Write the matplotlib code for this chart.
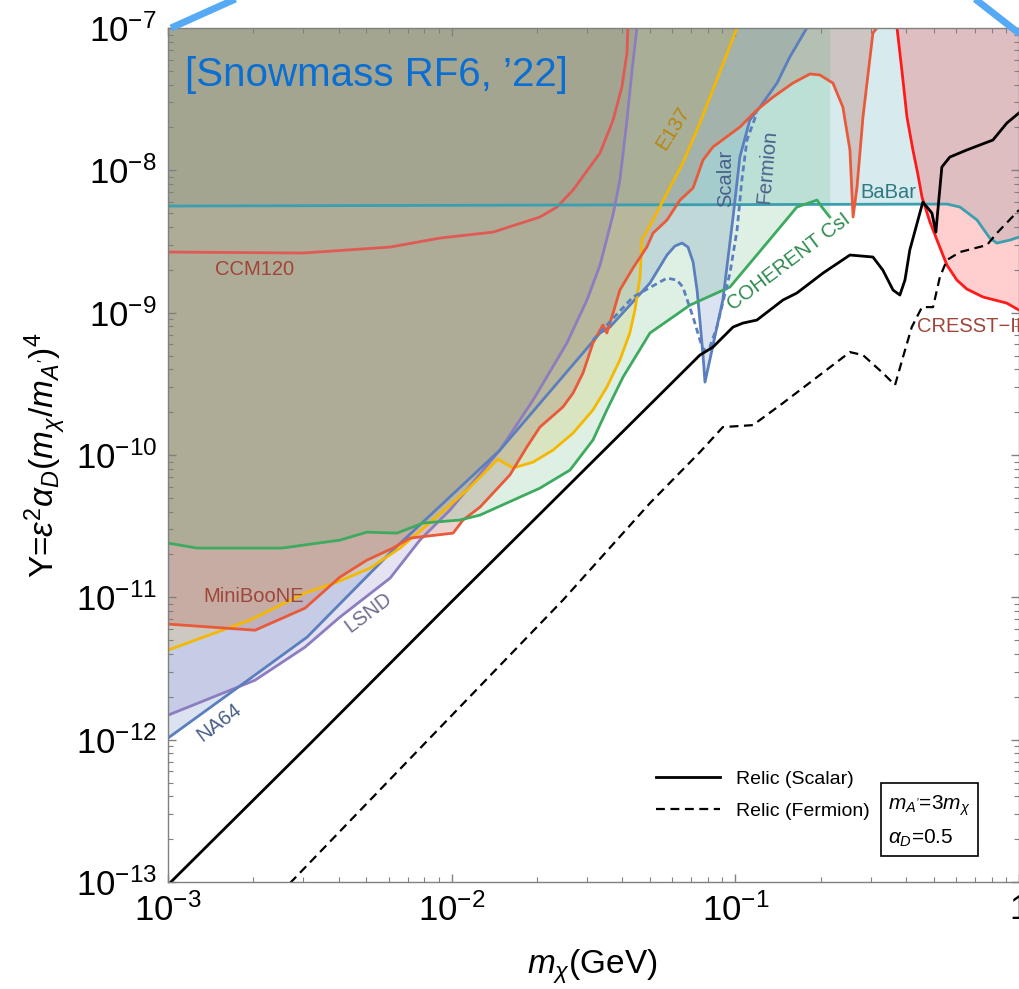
import numpy as np
import matplotlib
matplotlib.use("Agg")
import matplotlib.pyplot as plt
from matplotlib.lines import Line2D
from matplotlib.ticker import LogLocator, FixedLocator, FixedFormatter, NullFormatter

plt.rcParams['font.family'] = ['Liberation Sans', 'DejaVu Sans']
plt.rcParams['mathtext.fontset'] = 'custom'
plt.rcParams['mathtext.rm'] = 'Liberation Sans'
plt.rcParams['mathtext.it'] = 'Liberation Sans:italic'
plt.rcParams['mathtext.bf'] = 'Liberation Sans:bold'

# curves, stored as log10(m_chi/GeV) and log10(Y)
babar_lm = [-3.000, -0.254, -0.208, -0.148, -0.103, -0.078, -0.032, 0.000]
babar_ly = [-8.251, -8.237, -8.258, -8.349, -8.476, -8.511, -8.490, -8.469]

ccm_lm = [-3.000, -2.524, -2.217, -2.041, -1.854, -1.689, -1.629, -1.572,
          -1.477, -1.431, -1.400, -1.382, -1.379]
ccm_ly = [-8.574, -8.581, -8.539, -8.476, -8.434, -8.328, -8.258, -8.138,
          -7.878, -7.647, -7.415, -7.176, -7.000]

mb_lm = [-3.000, -2.693, -2.517, -2.394, -2.299, -2.207, -2.147, -1.995, -1.960,
         -1.900, -1.795, -1.735, -1.689, -1.608, -1.572, -1.537, -1.502, -1.467,
         -1.453, -1.431, -1.407, -1.361, -1.312, -1.290, -1.241, -1.195, -1.149,
         -1.114, -1.079, -0.984, -0.924, -0.867, -0.797, -0.737, -0.702, -0.656,
         -0.621, -0.596, -0.585, -0.571, -0.550, -0.515, -0.501]
mb_ly = [-11.188, -11.231, -11.076, -10.858, -10.739, -10.654, -10.584, -10.549,
         -10.457, -10.366, -10.141, -9.944, -9.804, -9.663, -9.565, -9.424, -9.214,
         -9.087, -9.143, -9.003, -8.841, -8.687, -8.539, -8.441, -8.349, -8.209,
         -8.124, -7.928, -7.836, -7.696, -7.576, -7.485, -7.387, -7.323, -7.330,
         -7.387, -7.555, -7.857, -8.328, -8.117, -7.625, -7.035, -7.000]

e137_lm = [-3.000, -2.711, -2.517, -2.404, -2.288, -2.182, -2.066, -1.946, -1.837,
           -1.784, -1.713, -1.643, -1.572, -1.502, -1.453, -1.407, -1.372, -1.354,
           -1.336, -1.329, -1.290, -1.241, -1.185, -1.125, -0.994]
e137_ly = [-11.371, -11.160, -10.970, -10.893, -10.795, -10.654, -10.457, -10.247,
           -10.029, -10.092, -10.050, -9.966, -9.846, -9.684, -9.523, -9.333, -9.143,
           -8.982, -8.750, -8.490, -8.349, -8.160, -7.949, -7.668, -7.000]

lsnd_lm = [-3.000, -2.693, -2.517, -2.394, -2.217, -2.112, -2.006, -1.830, -1.713,
           -1.594, -1.523, -1.477, -1.431, -1.407, -1.382, -1.364, -1.347]
lsnd_ly = [-11.828, -11.582, -11.350, -11.139, -10.865, -10.598, -10.387, -9.966,
           -9.614, -9.214, -8.911, -8.666, -8.310, -8.068, -7.647, -7.295, -7.000]

na64s_lm = [-3.000, -2.757, -2.510, -2.207, -1.830, -1.477, -1.442, -1.301, -1.241,
            -1.213, -1.188, -1.167, -1.149, -1.135, -1.125, -1.114, -1.107, -1.090,
            -1.065, -1.044, -1.008, -0.984, -0.949, -0.913, -0.853, -0.808, -0.748]
na64s_ly = [-11.989, -11.638, -11.280, -10.668, -9.966, -9.143, -9.101, -8.792, -8.595,
            -8.532, -8.511, -8.539, -8.644, -8.841, -9.052, -9.298, -9.488, -9.333,
            -9.101, -8.911, -8.328, -7.907, -7.647, -7.555, -7.387, -7.204, -7.000]

na64f_lm = [-1.502, -1.361, -1.241, -1.206, -1.185, -1.149, -1.114, -1.090, -1.065,
            -1.019, -0.994, -0.977, -0.959, -0.924]
na64f_ly = [-9.193, -8.890, -8.757, -8.771, -8.820, -9.031, -9.263, -9.242, -9.101,
            -8.722, -8.420, -8.068, -7.787, -7.597]

coh_lm = [-3.000, -2.898, -2.598, -2.394, -2.299, -2.193, -2.101, -1.971, -1.900,
          -1.689, -1.583, -1.502, -1.453, -1.396, -1.301, -1.160, -1.019, -0.889,
          -0.783, -0.712, -0.695, -0.667]
coh_ly = [-10.619, -10.654, -10.654, -10.598, -10.542, -10.549, -10.478, -10.457,
          -10.422, -10.233, -10.106, -9.895, -9.684, -9.453, -9.143, -8.947, -8.820,
          -8.511, -8.258, -8.209, -8.258, -8.328]

cresst_lm = [-0.430, -0.413, -0.395, -0.374, -0.356, -0.342, -0.314, -0.289, -0.254,
             -0.219, -0.184, -0.127, -0.043, 0.000]
cresst_ly = [-7.000, -7.295, -7.625, -7.857, -8.033, -8.188, -8.363, -8.490, -8.666,
             -8.771, -8.834, -8.890, -8.933, -8.982]

relic_s_lm = [-3.000, -2.500, -2.000, -1.500, -1.125, -1.079, -1.008, -0.973, -0.924,
              -0.832, -0.783, -0.691, -0.596, -0.515, -0.480, -0.444, -0.420, -0.402,
              -0.385, -0.339, -0.307, -0.293, -0.286, -0.272, -0.244, -0.184, -0.092,
              -0.043, 0.000]
relic_s_ly = [-13.02, -12.03, -11.03, -10.04, -9.298, -9.242, -9.101, -9.073, -9.052,
              -8.911, -8.862, -8.722, -8.595, -8.609, -8.701, -8.841, -8.876, -8.771,
              -8.560, -8.223, -8.300, -8.434, -8.279, -7.977, -7.907, -7.857, -7.787,
              -7.668, -7.597]

relic_f_lm = [-2.570, -1.608, -1.301, -1.125, -1.044, -0.938, -0.832, -0.712, -0.596,
              -0.550, -0.480, -0.437, -0.409, -0.378, -0.342, -0.303, -0.279, -0.254,
              -0.208, -0.113, -0.078, 0.000]
relic_f_ly = [-13.008, -11.020, -10.338, -9.980, -9.804, -9.790, -9.635, -9.453, -9.277,
              -9.298, -9.424, -9.509, -9.312, -9.101, -8.961, -8.961, -8.750, -8.630,
              -8.574, -8.525, -8.441, -8.279]

x_ticks = [1e-3, 1e-2, 1e-1, 1.0]
x_ticklabels = [r'$10^{-3}$', r'$10^{-2}$', r'$10^{-1}$', '1']
y_ticks = [1e-13, 1e-12, 1e-11, 1e-10, 1e-9, 1e-8, 1e-7]
y_ticklabels = [r'$10^{-13}$', r'$10^{-12}$', r'$10^{-11}$', r'$10^{-10}$',
                r'$10^{-9}$', r'$10^{-8}$', r'$10^{-7}$']

TOP = 1e-7


def dex(a):
    return 10.0 ** np.asarray(a)


fig = plt.figure(figsize=(10.19, 9.89), dpi=100)
ax = fig.add_axes([168 / 1019, 107 / 989, 851 / 1019, 854 / 989])
ax.set_xscale('log')
ax.set_yscale('log')
ax.set_xlim(1e-3, 1.0)
ax.set_ylim(1e-13, TOP)

# (x, y, line colour, fill colour, fill alpha), fills stacked in this order
experiments = [
    (babar_lm, babar_ly, '#3A9FAF', '#3A9FAF', 0.20),
    (lsnd_lm, lsnd_ly, '#8C7DC0', '#8C7DC0', 0.22),
    (na64s_lm, na64s_ly, '#5B7FBE', '#5B7FBE', 0.22),
    (e137_lm, e137_ly, '#F5B800', '#E8C040', 0.22),
    (mb_lm, mb_ly, '#E85A3A', '#B46455', 0.28),
    (coh_lm, coh_ly, '#3DAA5F', '#3DAA5F', 0.17),
    (cresst_lm, cresst_ly, '#FF1A1A', '#FF2020', 0.22),
]
for lm, ly, lc, fc, a in experiments:
    ax.fill_between(dex(lm), dex(ly), TOP, color=fc, alpha=a, lw=0)

ax.plot(dex(ccm_lm), dex(ccm_ly), color='#E05A55', lw=2.0)
for lm, ly, lc, fc, a in experiments:
    ax.plot(dex(lm), dex(ly), color=lc, lw=2.0)
ax.plot(dex(na64f_lm), dex(na64f_ly), color='#5B7FBE', lw=2.0, ls=(0, (2.2, 1.4)))

ax.plot(dex(relic_s_lm), dex(relic_s_ly), color='black', lw=2.0, label='Relic (Scalar)')
ax.plot(dex(relic_f_lm), dex(relic_f_ly), color='black', lw=1.6, ls=(0, (4, 2.5)),
        label='Relic (Fermion)')

# experiment labels
lab = dict(transform=ax.transAxes, fontsize=14.5, ha='center', va='center')
ax.text(0.102, 0.717, 'CCM120', color='#A0453A', **lab)
ax.text(0.101, 0.334, 'MiniBooNE', color='#A0453A', **lab)
ax.text(0.235, 0.315, 'LSND', color='#6F6A90', rotation=37, **lab)
ax.text(0.060, 0.187, 'NA64', color='#4A5F8A', rotation=37, **lab)
ax.text(0.593, 0.883, 'E137', color='#B8860B', rotation=58, **lab)
ax.text(0.655, 0.824, 'Scalar', color='#4A5F8A', rotation=90, **lab)
ax.text(0.704, 0.838, 'Fermion', color='#4A5F8A', rotation=85, **lab)
ax.text(0.730, 0.726, 'COHERENT CsI', color='#2E8A4E', rotation=37, **lab)
ax.text(0.847, 0.807, 'BaBar', color='#2E7A80', **lab)
ax.text(0.880, 0.650, 'CRESST\u2212III', color='#A0453A', transform=ax.transAxes,
        fontsize=14.5, ha='left', va='center')
ax.text(0.02, 0.945, '[Snowmass RF6, \u201922]', color='#0A6ED2', fontsize=29,
        transform=ax.transAxes, ha='left', va='center')

leg = ax.legend(loc='upper left', bbox_to_anchor=(0.562, 0.142), frameon=False,
                fontsize=14, handlelength=3.3, handletextpad=0.8, labelspacing=0.75,
                borderpad=0)
ax.text(0.846, 0.071, "$m_{A'}$=3$m_\\chi$\n$\\alpha_D$=0.5", transform=ax.transAxes,
        fontsize=15, ha='left', va='center', linespacing=1.6,
        bbox=dict(boxstyle='square,pad=0.35', fc='white', ec='black', lw=1.2))

# frame and ticks, Mathematica-like
for s in ax.spines.values():
    s.set_color('#808080')
    s.set_linewidth(1.0)
ax.xaxis.set_major_locator(FixedLocator(x_ticks))
ax.xaxis.set_major_formatter(FixedFormatter(x_ticklabels))
ax.yaxis.set_major_locator(FixedLocator(y_ticks))
ax.yaxis.set_major_formatter(FixedFormatter(y_ticklabels))
ax.xaxis.set_minor_locator(LogLocator(base=10, subs=np.arange(2, 10), numticks=20))
ax.yaxis.set_minor_locator(LogLocator(base=10, subs=np.arange(2, 10), numticks=20))
ax.xaxis.set_minor_formatter(NullFormatter())
ax.yaxis.set_minor_formatter(NullFormatter())
ax.tick_params(which='both', direction='in', top=True, right=True, color='#808080')
ax.tick_params(which='major', length=6, width=1.0, labelsize=25, pad=8)
ax.tick_params(which='minor', length=3.5, width=0.8)

fig.text(592 / 1019, 1 - 967 / 989, r'$m_\chi$(GeV)', fontsize=24, ha='center', va='center')
fig.text(46 / 1019, 1 - 455 / 989, r"Y=$\varepsilon^2\alpha_D(m_\chi/m_{A'})^4$",
         fontsize=24, ha='center', va='center', rotation=90)

# zoom guide lines from the parent figure
fig.add_artist(Line2D([171 / 1019, 240 / 1019], [1 - 28 / 989, 1 + 3 / 989],
                      color='#55A9F5', lw=5, solid_capstyle='butt'))
fig.add_artist(Line2D([970 / 1019, 1025 / 1019], [1 + 5 / 989, 1 - 38 / 989],
                      color='#55A9F5', lw=5, solid_capstyle='butt'))

fig.savefig('out.png', dpi=100)
